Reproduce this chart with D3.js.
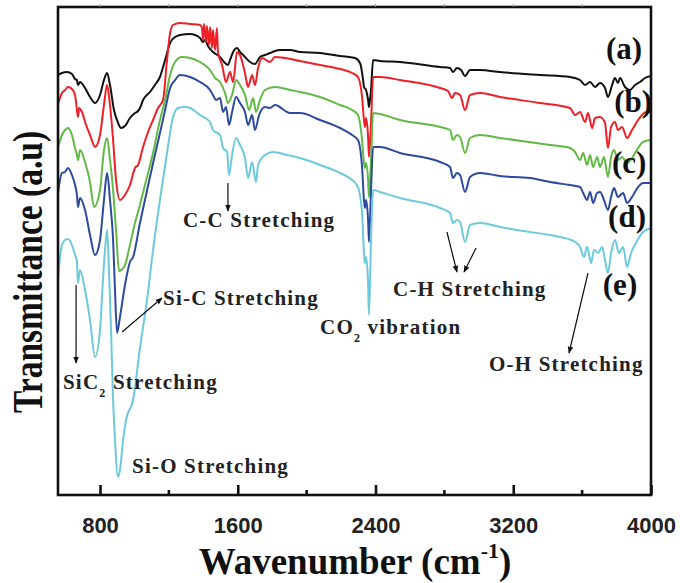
<!DOCTYPE html>
<html>
<head>
<meta charset="utf-8">
<script src="https://cdn.jsdelivr.net/npm/d3@7/dist/d3.min.js"></script>
<style>
  body { margin: 0; background: #fff; }
  svg { display: block; }
</style>
</head>
<body>
<div id="chart"></div>
<script>
// FTIR spectra: wavenumber (cm-1) vs transmittance (a.u., each sample offset)
const specA = [[556,84],[579,84.4],[608,84.6],[637,84.2],[655,83.2],[666,83],[672,82],[684,82.6],[713,81.4],[742,79.6],[771,78.4],[800,80],[823,83],[841,84.4],[858,82],[881,77],[905,74.4],[922,73.4],[945,73.8],[974,75.4],[1003,76.4],[1021,76.8],[1032,77.4],[1050,79],[1090,80.6],[1119,82],[1148,83.6],[1178,87],[1207,90.4],[1236,91.6],[1265,92],[1323,92.2],[1381,91.4],[1398,90.6],[1410,91],[1427,89.8],[1456,88.6],[1497,87.6],[1526,86.4],[1543,86],[1555,87],[1573,88.6],[1596,89.4],[1613,88.6],[1631,88],[1671,86.6],[1700,86.2],[1729,87.6],[1758,88],[1787,88.4],[1816,88.8],[1845,89],[1904,89],[1962,88.6],[2078,88.4],[2194,87.8],[2281,87.4],[2310,86.4],[2328,83],[2333,81.6],[2345,81],[2357,79],[2362,77.6],[2368,79],[2374,81],[2386,87],[2426,86.8],[2542,86.6],[2775,85.6],[2833,85.4],[2850,84.6],[2873,85.4],[2897,85],[2920,83.8],[2949,85],[3007,85],[3123,84.6],[3356,84],[3530,83.6],[3588,83],[3617,82],[3646,82.6],[3675,81.6],[3704,82.4],[3733,81.4],[3750,79.6],[3774,82],[3791,83.4],[3808,82.4],[3820,83.4],[3849,81.6],[3878,81],[3907,82],[3936,82.6],[3965,83.4],[4000,83.8]];

const specB = [[556,78.2],[579,80.4],[597,81],[614,81.6],[637,81.2],[655,80],[666,77],[672,75.6],[678,77.4],[695,76.6],[719,74],[742,72],[771,69.6],[800,72],[823,78],[841,82],[858,78],[876,71],[893,63],[916,59],[945,60],[974,62],[1003,65.4],[1021,66],[1050,69.6],[1079,72.6],[1108,75],[1137,77.4],[1166,79],[1189,87],[1207,92.4],[1224,94],[1265,94.4],[1323,94.2],[1381,94],[1392,93.4],[1398,91],[1404,94.2],[1416,90.6],[1421,93.8],[1433,90],[1439,93.6],[1450,89.4],[1456,93],[1468,89],[1479,93.4],[1485,88.6],[1509,86],[1532,82.6],[1555,84.6],[1573,82.6],[1596,88.6],[1613,88],[1642,84.4],[1660,81.6],[1683,84],[1700,82],[1718,85.4],[1741,87.4],[1787,86.6],[1816,87.6],[1874,87.4],[1962,86.8],[2078,86],[2194,85.2],[2264,84.4],[2298,83.6],[2322,79.6],[2333,75],[2339,73.6],[2345,75.4],[2357,71.6],[2362,67.6],[2374,74.4],[2386,83.6],[2426,83.6],[2542,83],[2775,81.4],[2821,80.8],[2844,79.4],[2862,80.4],[2891,80],[2920,77],[2949,80],[3007,80.4],[3123,79.6],[3356,78.4],[3530,77.4],[3559,76],[3588,76.6],[3617,74.6],[3634,76.4],[3658,73.4],[3675,75.4],[3704,75.6],[3733,74.4],[3750,69.4],[3768,73.6],[3791,74.6],[3808,73],[3832,73.6],[3861,71.4],[3890,73],[3925,75],[3948,76],[3971,76.6],[4000,76.6]];

const specC = [[556,69.6],[579,72],[597,73],[614,73.4],[637,72],[655,69.4],[666,68],[672,67],[684,69],[713,66.6],[742,62.6],[765,57.6],[800,61],[823,69],[841,71.4],[858,67],[876,61],[893,53],[911,44.8],[945,46],[974,50],[1003,54.4],[1032,58],[1061,62],[1108,68.4],[1148,75],[1178,79],[1207,84],[1236,86.6],[1276,87.6],[1323,87.4],[1381,86.6],[1439,85],[1468,83.4],[1497,82.6],[1526,80.4],[1543,78.4],[1567,80],[1590,83],[1613,82],[1642,80],[1666,77],[1689,79.4],[1706,76.6],[1729,79],[1758,81],[1816,81.6],[1904,81],[1962,80.6],[2078,79.6],[2194,78],[2264,77],[2298,76],[2322,71],[2333,66.4],[2339,65.4],[2345,66.4],[2357,63],[2362,59.6],[2374,67],[2386,76.4],[2426,76.2],[2542,75],[2775,73.6],[2833,73],[2850,71],[2873,72],[2891,71.6],[2920,68.4],[2949,71.4],[3007,72],[3123,71.4],[3414,70],[3530,69.4],[3559,68.6],[3588,67],[3606,68.4],[3629,66],[3646,68],[3664,65.6],[3687,67.6],[3704,65.6],[3727,67.6],[3750,63.6],[3768,67.6],[3785,69],[3808,67],[3832,67.6],[3861,66.4],[3890,67.4],[3925,69.4],[3954,70.6],[4000,71]];

const specD = [[556,60.4],[579,64.4],[597,64.6],[614,65.4],[637,64],[655,62],[666,60],[672,57.6],[684,59.4],[713,57],[742,52],[771,48],[800,51],[823,59],[841,64.4],[858,59],[876,51],[887,41],[899,32.4],[916,35.6],[945,42],[974,46.6],[992,47.6],[1032,54.4],[1090,63.6],[1148,72.4],[1178,77],[1207,81.4],[1236,83],[1265,84],[1323,83.6],[1381,82.6],[1439,81],[1456,80],[1474,79],[1497,79.4],[1515,76.6],[1532,77.6],[1549,74],[1567,76.6],[1590,79.6],[1613,78.4],[1642,76.6],[1660,74],[1683,76],[1700,73],[1724,76],[1758,77.6],[1787,77.4],[1816,78],[1904,76.4],[1962,76.4],[2078,75],[2194,73.4],[2264,72],[2298,71],[2322,65.6],[2333,59],[2339,57.4],[2345,59],[2357,55],[2362,50.6],[2374,61],[2386,69.6],[2426,69.6],[2542,68.4],[2775,66.6],[2833,65.6],[2850,63.4],[2873,64.4],[2891,64],[2920,60.6],[2949,63.6],[3007,64.4],[3123,63.8],[3297,63.4],[3414,62.6],[3530,62],[3588,61.6],[3606,60.4],[3629,59],[3646,60.6],[3664,58.4],[3687,60.4],[3704,60.6],[3727,59],[3750,57],[3768,59.6],[3785,61.4],[3808,59.6],[3838,60.4],[3861,58.4],[3890,59.6],[3925,61.6],[3954,62.4],[4000,62.4]];

const specE = [[556,43.6],[579,50],[597,51],[614,51.2],[637,50],[655,48],[666,46.6],[672,42.4],[684,45],[713,41],[742,35],[771,27.6],[800,33],[817,43],[829,49],[841,53],[852,45],[864,33],[876,19],[887,11],[905,3.6],[916,5],[934,11],[951,15],[992,19],[1032,29.4],[1073,39],[1108,49],[1148,59],[1189,68.4],[1224,75.6],[1253,77.4],[1294,77.6],[1323,77.4],[1381,76],[1439,74.6],[1456,73],[1497,72],[1515,69.4],[1538,68.6],[1549,64],[1567,68],[1590,71.4],[1613,70],[1642,67.4],[1660,63.4],[1683,66.6],[1706,62.6],[1718,66],[1758,68],[1805,68.6],[1886,68],[1962,67.4],[2078,66],[2194,64.4],[2264,63],[2298,61.6],[2322,56.4],[2333,48.4],[2339,46.4],[2345,47.6],[2357,42.4],[2362,36],[2374,51],[2386,61],[2426,60.6],[2542,59.4],[2775,57.4],[2833,56.4],[2850,54.4],[2873,55],[2891,54.6],[2920,50.6],[2949,54],[3007,54.4],[3123,53.6],[3297,52.6],[3414,52],[3472,51.6],[3559,50.6],[3588,49.6],[3611,47.6],[3629,49.6],[3652,46.4],[3669,49],[3693,48.4],[3716,49.6],[3733,47],[3750,44.4],[3768,48.4],[3791,51],[3814,48.4],[3838,49.6],[3861,45.6],[3884,48.4],[3913,50.4],[3948,52.4],[4000,53.4]];

const spectra = [specA, specB, specC, specD, specE];
const sampleNames = ["(a)", "(b)", "(c)", "(d)", "(e)"];
const sampleLabelAt = [[3843,87.2],[3896,76.6],[3873,64.4],[3861,53.6],[3820,40]];
const lineColors = ["#111111", "#ee1f26", "#62b946", "#2c4a9e", "#6ccadc"];

const majorTicks = [800, 1600, 2400, 3200, 4000];
const minorTicks = [1200, 2000, 2800, 3600];
const topTicks = [800, 1200, 1600, 2000, 2400, 2800, 3200, 3600];

// band assignments: [text parts, wavenumber, a.u.]  part[1] = 1 means subscript
const notes = [
  [[["C-C Stretching",0]], 1282, 53.6],
  [[["Si-C Stretching",0]], 1166, 38],
  [[["SiC",0],["2",1],[" Stretching",0]], 585, 21.2],
  [[["Si-O Stretching",0]], 986, 4.4],
  [[["CO",0],["2",1],[" vibration",0]], 2078, 32.2],
  [[["C-H Stretching",0]], 2502, 39.8],
  [[["O-H Stretching",0]], 3059, 24.8]
];
// arrows: from [wn, a.u.] to [wn, a.u.]
const arrows = [
  [1543, 62.4, 1543, 56.8],
  [928, 32.6, 1160, 39.4],
  [661, 42, 661, 26.4],
  [2815, 52.6, 2873, 44.6],
  [2984, 49.4, 2914, 44.6],
  [3634, 44.4, 3524, 28.4]
];

var width = 680, height = 583;
var mLeft = 58, mRight = 651, mTop = 7, mBottom = 495;

var x = d3.scaleLinear().domain([556, 4000]).range([mLeft, mRight]);
var y = d3.scaleLinear().domain([0, 97.6]).range([mBottom, mTop]);

var svg = d3.select("#chart").append("svg")
    .attr("width", width)
    .attr("height", height);

svg.append("defs").append("marker")
    .attr("id", "head")
    .attr("viewBox", "0 0 10 10")
    .attr("refX", 9).attr("refY", 5)
    .attr("markerWidth", 7).attr("markerHeight", 7)
    .attr("markerUnits", "userSpaceOnUse")
    .attr("orient", "auto")
  .append("path")
    .attr("d", "M0,1 L10,5 L0,9 z")
    .attr("fill", "#111");

// spectra
var line = d3.line()
    .x(function(d) { return x(d[0]) })
    .y(function(d) { return y(d[1]) })
    .curve(d3.curveMonotoneX);

svg.append("g").selectAll("path")
    .data(spectra)
    .enter()
    .append("path")
    .attr("d", line)
    .attr("fill", "none")
    .attr("stroke", function(d, i) { return lineColors[i] })
    .attr("stroke-width", 2)
    .attr("stroke-linejoin", "round");

// frame
svg.append("rect")
    .attr("x", mLeft).attr("y", mTop)
    .attr("width", mRight - mLeft).attr("height", mBottom - mTop)
    .attr("fill", "none")
    .attr("stroke", "#111")
    .attr("stroke-width", 2.6);

// bottom axis, ticks pointing inward
var axisB = svg.append("g")
    .attr("transform", "translate(0," + mBottom + ")")
    .call(d3.axisBottom(x).tickValues(majorTicks).tickFormat(d3.format("d"))
        .tickSizeInner(-10).tickSizeOuter(0).tickPadding(22));
axisB.select(".domain").remove();
axisB.selectAll(".tick line").attr("stroke", "#111").attr("stroke-width", 2.6);
axisB.selectAll(".tick text")
    .attr("fill", "#222")
    .style("font-family", "'Liberation Sans', Arial, sans-serif")
    .style("font-weight", "bold")
    .style("font-size", "22px");

svg.append("g").selectAll("line")
    .data(minorTicks)
    .enter()
    .append("line")
    .attr("x1", function(d) { return x(d) }).attr("x2", function(d) { return x(d) })
    .attr("y1", mBottom).attr("y2", mBottom - 5)
    .attr("stroke", "#111").attr("stroke-width", 2.6);

svg.append("g").selectAll("line")
    .data(topTicks)
    .enter()
    .append("line")
    .attr("x1", function(d) { return x(d) }).attr("x2", function(d) { return x(d) })
    .attr("y1", mTop).attr("y2", mTop - 3)
    .attr("stroke", "#999").attr("stroke-width", 1);

// axis titles
var serif = "'Liberation Serif', 'Times New Roman', serif";

var xt = svg.append("text")
    .attr("x", 355).attr("y", 574)
    .attr("text-anchor", "middle")
    .style("font-family", serif)
    .style("font-weight", "bold")
    .style("font-size", "37px")
    .attr("fill", "#111");
xt.append("tspan").text("Wavenumber (cm");
xt.append("tspan").attr("dy", -16).style("font-size", "22px").text("-1");
xt.append("tspan").attr("dy", 16).text(")");

svg.append("text")
    .attr("transform", "translate(42,272) rotate(-90) scale(1,1.25)")
    .attr("text-anchor", "middle")
    .style("font-family", serif)
    .style("font-weight", "bold")
    .style("font-size", "33.5px")
    .attr("fill", "#111")
    .text("Transmittance (a.u)");

// sample labels
svg.append("g").selectAll("text")
    .data(sampleNames)
    .enter()
    .append("text")
    .attr("x", function(d, i) { return x(sampleLabelAt[i][0]) })
    .attr("y", function(d, i) { return y(sampleLabelAt[i][1]) })
    .attr("text-anchor", "middle")
    .style("font-family", serif)
    .style("font-weight", "bold")
    .style("font-size", "31px")
    .attr("fill", "#111")
    .text(function(d) { return d });

// band notes
var noteG = svg.append("g");
notes.forEach(function(n) {
    var t = noteG.append("text")
        .attr("x", x(n[1]))
        .attr("y", y(n[2]))
        .style("font-family", serif)
        .style("font-weight", "bold")
        .style("font-size", "21px")
        .style("letter-spacing", "1.2px")
        .attr("fill", "#222");
    n[0].forEach(function(p, k) {
        var s = t.append("tspan").text(p[0]);
        if (p[1] == 1) {
            s.attr("dy", 8).style("font-size", "12px");
        } else if (k > 0) {
            s.attr("dy", -8);
        }
    });
});

svg.append("g").selectAll("line")
    .data(arrows)
    .enter()
    .append("line")
    .attr("x1", function(d) { return x(d[0]) })
    .attr("y1", function(d) { return y(d[1]) })
    .attr("x2", function(d) { return x(d[2]) })
    .attr("y2", function(d) { return y(d[3]) })
    .attr("stroke", "#111")
    .attr("stroke-width", 1.2)
    .attr("marker-end", "url(#head)");
</script>
</body>
</html>
